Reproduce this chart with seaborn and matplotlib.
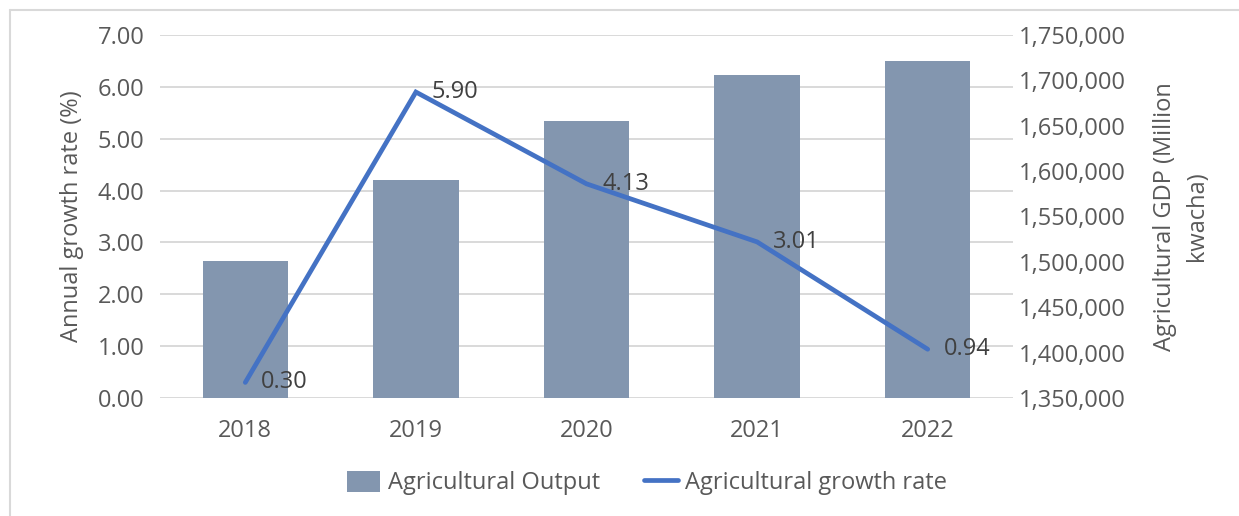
import matplotlib
matplotlib.use("Agg")
import matplotlib.pyplot as plt
import seaborn as sns
import pandas as pd
import numpy as np
from matplotlib.lines import Line2D
from matplotlib.patches import Patch
from matplotlib.ticker import FuncFormatter

# Data
years = ["2018", "2019", "2020", "2021", "2022"]
agri_output = [1501000, 1590000, 1655000, 1706000, 1721000]  # Million kwacha
growth_rate = [0.30, 5.90, 4.13, 3.01, 0.94]                  # percent

BAR_COLOR = "#8396AF"
LINE_COLOR = "#4472C4"
TEXT_COLOR = "#595959"
LABEL_COLOR = "#404040"
GRID_COLOR = "#d9d9d9"
FS = 17

sns.set_theme(style="white")
plt.rcParams["font.family"] = ["Open Sans", "DejaVu Sans"]

W, H = 1239, 516
fig = plt.figure(figsize=(W / 100, H / 100), dpi=100)
rect = [160 / W, 1 - 398 / H, 853 / W, 363 / H]

# Base axis: left scale (growth rate) with gridlines
ax_grid = fig.add_axes(rect)
ax_grid.set_ylim(0, 7)
ax_grid.set_yticks(np.arange(0, 8, 1))
ax_grid.yaxis.set_major_formatter(FuncFormatter(lambda v, p: f"{v:.2f}"))
ax_grid.grid(axis="y", color=GRID_COLOR, linewidth=1.4)
ax_grid.set_axisbelow(True)
for s in ax_grid.spines.values():
    s.set_visible(False)
ax_grid.tick_params(axis="y", length=0, pad=11, labelsize=FS, labelcolor=TEXT_COLOR)
ax_grid.tick_params(axis="x", length=0, pad=15, labelsize=FS, labelcolor=TEXT_COLOR)
ax_grid.set_ylabel("Annual growth rate (%)", fontsize=FS, color=TEXT_COLOR, labelpad=10)

# Bars on the right scale
ax_bar = ax_grid.twinx()
df_out = pd.DataFrame({"year": years, "output": agri_output})
sns.barplot(data=df_out, x="year", y="output", ax=ax_bar, color=BAR_COLOR,
            width=0.5, saturation=1, edgecolor="none")
ax_bar.set_ylim(1350000, 1750000)
ax_bar.set_yticks(np.arange(1350000, 1750001, 50000))
ax_bar.yaxis.set_major_formatter(FuncFormatter(lambda v, p: f"{int(v):,}"))
ax_bar.tick_params(axis="y", length=0, pad=4, labelsize=FS, labelcolor=TEXT_COLOR)
ax_bar.set_xlabel("")
ax_bar.set_ylabel("Agricultural GDP (Million\nkwacha)", fontsize=FS, color=TEXT_COLOR,
                  labelpad=20, linespacing=1.45)
for s in ax_bar.spines.values():
    s.set_visible(False)

# Growth-rate line on top, sharing the left scale
ax_line = ax_grid.twinx()
df_gr = pd.DataFrame({"pos": np.arange(len(years)), "growth": growth_rate})
sns.lineplot(data=df_gr, x="pos", y="growth", ax=ax_line, color=LINE_COLOR,
             linewidth=3.4, solid_joinstyle="miter")
ax_line.set_ylim(0, 7)
ax_line.set_yticks([])
ax_line.set_ylabel("")
ax_line.set_xlabel("")
for s in ax_line.spines.values():
    s.set_visible(False)
for i, v in enumerate(growth_rate):
    ax_line.annotate(f"{v:.2f}", (i, v), xytext=(11.5, 0), textcoords="offset points",
                     ha="left", va="center", fontsize=FS, color=LABEL_COLOR)

ax_grid.set_xlim(-0.5, len(years) - 0.5)
ax_grid.set_xticks(range(len(years)))
ax_grid.set_xticklabels(years)
ax_grid.set_xlabel("")

# Legend
handles = [Patch(facecolor=BAR_COLOR, edgecolor="none"),
           Line2D([0], [0], color=LINE_COLOR, linewidth=3.4)]
fig.legend(handles, ["Agricultural Output", "Agricultural growth rate"],
           loc="center", bbox_to_anchor=(647 / W, 1 - 483 / H), ncol=2, frameon=False,
           fontsize=FS, labelcolor=TEXT_COLOR, handlelength=1.4, handleheight=1.0,
           handletextpad=0.3, columnspacing=1.9)

# Thin frame on top and left edges
fig.add_artist(Line2D([9.5 / W, 1], [1 - 9.5 / H] * 2, transform=fig.transFigure,
                      color=GRID_COLOR, linewidth=1.5))
fig.add_artist(Line2D([9.5 / W] * 2, [0, 1 - 9.5 / H], transform=fig.transFigure,
                      color=GRID_COLOR, linewidth=1.5))

fig.savefig("out.png", dpi=100, facecolor="white")
